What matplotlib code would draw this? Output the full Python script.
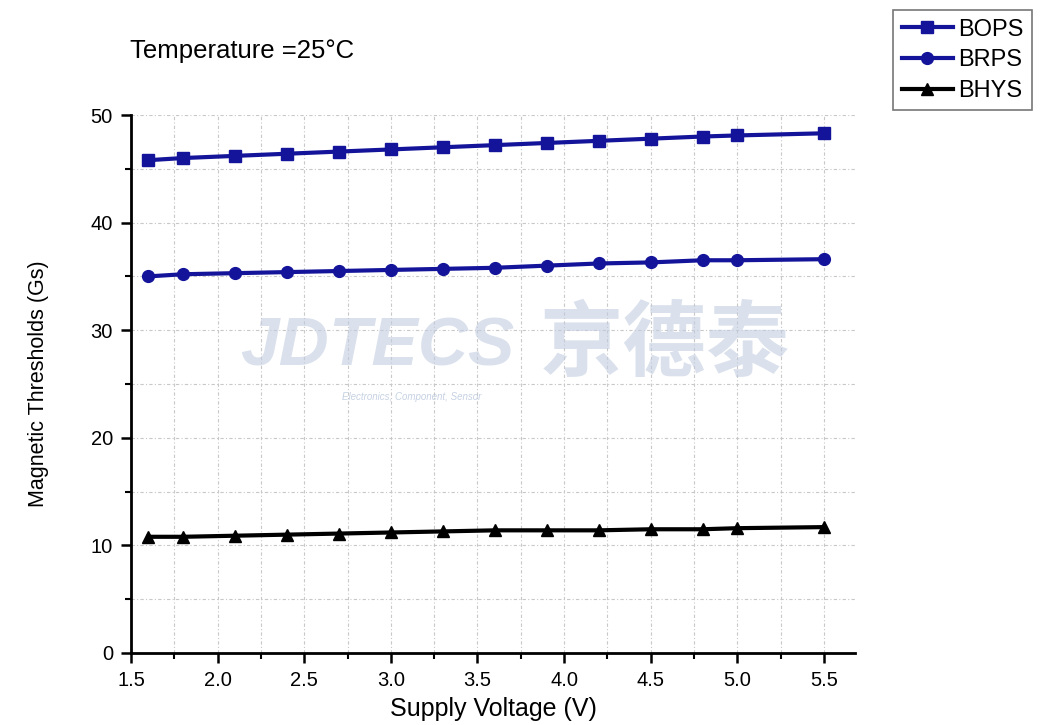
import matplotlib
matplotlib.use("Agg")
import matplotlib.pyplot as plt
from matplotlib.ticker import MultipleLocator

plt.rcParams['font.family'] = ['Liberation Sans', 'DejaVu Sans']

voltage = [1.6, 1.8, 2.1, 2.4, 2.7, 3.0, 3.3, 3.6, 3.9, 4.2, 4.5, 4.8, 5.0, 5.5]
bops = [45.8, 46.0, 46.2, 46.4, 46.6, 46.8, 47.0, 47.2, 47.4, 47.6, 47.8, 48.0, 48.1, 48.3]
brps = [35.0, 35.2, 35.3, 35.4, 35.5, 35.6, 35.7, 35.8, 36.0, 36.2, 36.3, 36.5, 36.5, 36.6]
bhys = [10.8, 10.8, 10.9, 11.0, 11.1, 11.2, 11.3, 11.4, 11.4, 11.4, 11.5, 11.5, 11.6, 11.7]
series_names = ['BOPS', 'BRPS', 'BHYS']
x_ticks = [1.5, 2.0, 2.5, 3.0, 3.5, 4.0, 4.5, 5.0, 5.5]
y_ticks = [0, 10, 20, 30, 40, 50]

fig = plt.figure(figsize=(10.4, 7.25), dpi=100)
ax = fig.add_axes([131/1040, 72/725, (855-131)/1040, (653-115)/725])

blue = '#14149a'
l1, = ax.plot(voltage, bops, color=blue, lw=3, marker='s', ms=8, label=series_names[0])
l2, = ax.plot(voltage, brps, color=blue, lw=3, marker='o', ms=8.5, label=series_names[1])
l3, = ax.plot(voltage, bhys, color='black', lw=3, marker='^', ms=9, label=series_names[2])

ax.set_xlim(1.5, 5.68)
ax.set_ylim(0, 50)
ax.set_xticks(x_ticks)
ax.set_xticklabels([f"{v:.1f}" for v in x_ticks])
ax.set_yticks(y_ticks)
ax.xaxis.set_minor_locator(MultipleLocator(0.25))
ax.yaxis.set_minor_locator(MultipleLocator(5))

ax.grid(True, which='both', color='#c8c8c8', linestyle=(0, (3, 2, 1, 2)), linewidth=0.8)
ax.set_axisbelow(True)

for s in ['top', 'right']:
    ax.spines[s].set_visible(False)
for s in ['left', 'bottom']:
    ax.spines[s].set_linewidth(2)

ax.tick_params(which='major', direction='out', length=7, width=1.8, labelsize=14.5, pad=6)
ax.tick_params(which='minor', direction='out', length=4, width=1.5)

ax.set_xlabel('Supply Voltage (V)', fontsize=18, labelpad=5)
ax.set_ylabel('Magnetic Thresholds (Gs)', fontsize=15.5, labelpad=30)

fig.text(130/1040, 1 - 51/725, 'Temperature =25°C', fontsize=18.5, va='center', ha='left')

# watermark
fig.text(240/1040, 1 - 348/725, 'JDTECS', fontsize=50, fontstyle='italic', fontweight='bold',
         color='#c2cde0', alpha=0.6, va='center', ha='left', zorder=0)
fig.text(540/1040, 1 - 345/725, '京德泰', fontsize=60, family=['Noto Sans CJK SC', 'DejaVu Sans'],
         fontweight='bold', color='#c2cde0', alpha=0.6, va='center', ha='left', zorder=0)
fig.text(342/1040, 1 - 397/725, 'Electronics, Component, Sensor', fontsize=7, fontstyle='italic',
         color='#b8c6dc', alpha=0.8, va='center', ha='left')

leg = fig.legend(handles=[l1, l2, l3], loc='upper left', bbox_to_anchor=(893/1040, 1 - 10/725),
                 fontsize=17, frameon=True, fancybox=False, edgecolor='#555555',
                 handlelength=2.2, handletextpad=0.2, borderpad=0.36, labelspacing=0.37,
                 borderaxespad=0)
leg.get_frame().set_linewidth(1.2)

fig.savefig('out.png', dpi=100)
